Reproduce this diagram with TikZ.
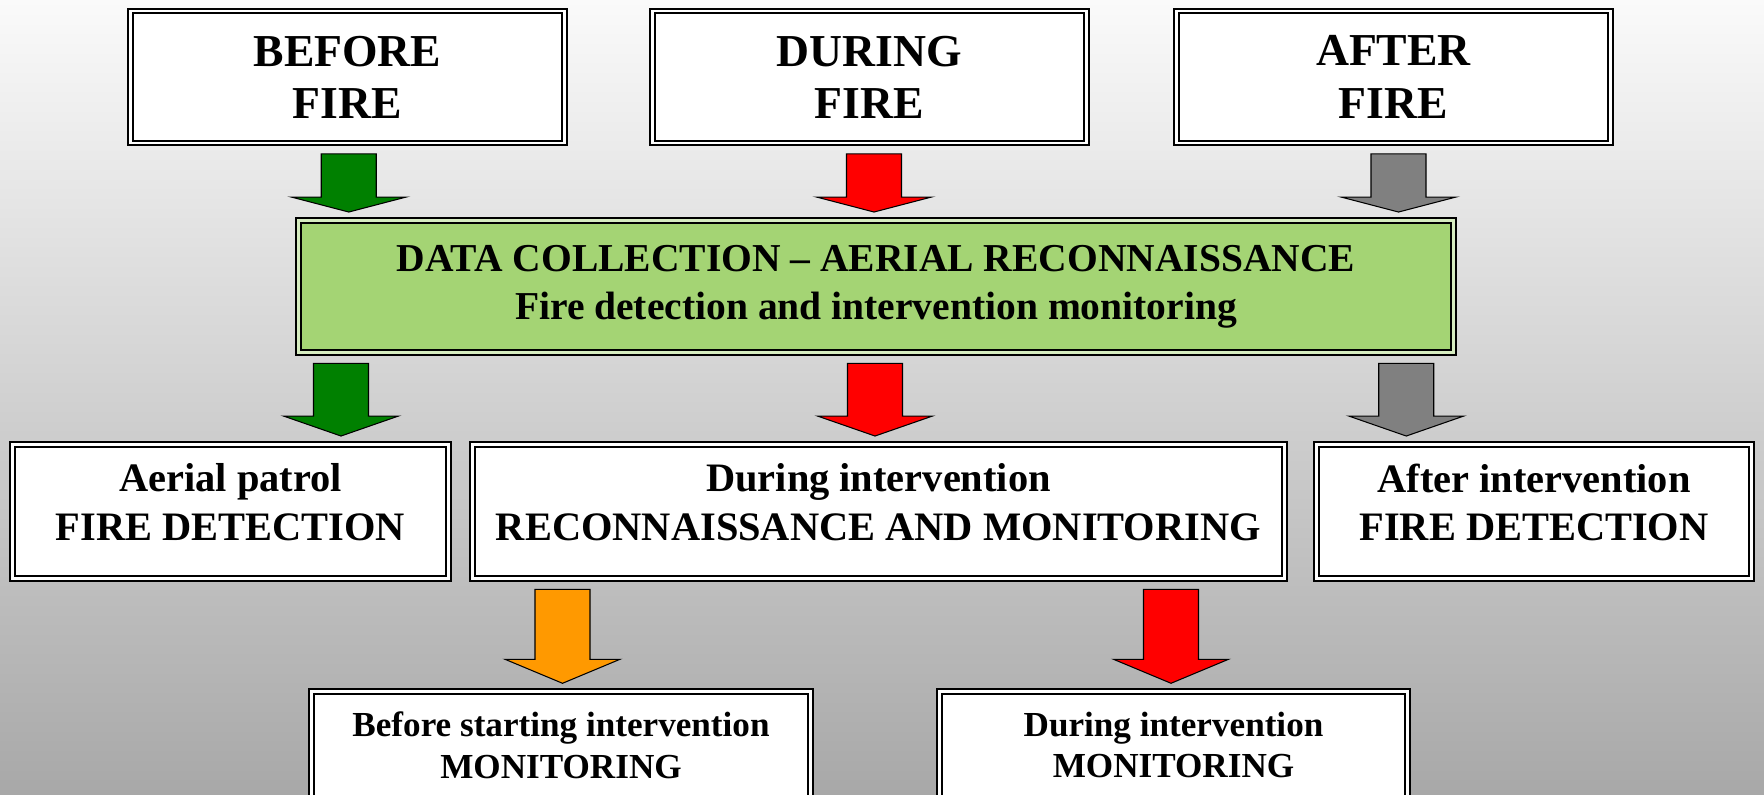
\documentclass[tikz,border=0pt]{standalone}
\usepackage{fontspec}
\setmainfont{Liberation Serif}
\usetikzlibrary{calc}

% Larghezze delle frecce a blocco
\def\shaftw{0.55}
\def\headw{1.15}

% Freccia a blocco: nome, colore, x, nodo di partenza, nodo di arrivo, lunghezza punta
\newcommand{\fireArrow}[6]{%
  \coordinate (#1s) at ($(#3,0 |- #4.south)+(0,-0.2)$);
  \coordinate (#1t) at ($(#3,0 |- #5.north)+(0,0.15)$);
  \draw[blockarrow, fill=#2] ($(#1s)+(-\shaftw,0)$) -- ($(#1s)+(\shaftw,0)$)
    -- ($(#1t)+(\shaftw,#6)$) -- ($(#1t)+(\headw,#6)$) -- (#1t)
    -- ($(#1t)+(-\headw,#6)$) -- ($(#1t)+(-\shaftw,#6)$) -- cycle;
}

\begin{document}
\begin{tikzpicture}

% Colori
\definecolor{bgTop}{HTML}{FAFAFA}
\definecolor{bgMid}{HTML}{E2E2E2}
\definecolor{bgBot}{HTML}{A8A8A8}
\definecolor{colData}{HTML}{A4D474}
\definecolor{colGreen}{HTML}{008000}
\definecolor{colRed}{HTML}{FF0000}
\definecolor{colGray}{HTML}{808080}
\definecolor{colOrange}{HTML}{FF9900}

\tikzset{
  box/.style={draw=black, line width=1.1pt, double=white, double distance=1.6pt,
    fill=white, align=center, inner sep=0pt},
  phasebox/.style={box, minimum width=8.69cm, minimum height=2.64cm,
    font=\fontsize{26}{29.7}\selectfont\bfseries},
  databox/.style={box, double=colData!45!white, fill=colData,
    minimum width=23.11cm, minimum height=2.64cm,
    font=\fontsize{22.5}{27.3}\selectfont\bfseries},
  taskbox/.style={box, minimum height=2.68cm, text depth=0.38cm,
    font=\fontsize{23}{27.5}\selectfont\bfseries},
  monbox/.style={box, minimum height=2.13cm,
    font=\fontsize{20}{23.7}\selectfont\bfseries},
  blockarrow/.style={draw=black, line width=0.6pt, line join=miter}
}

% Sfondo
\clip (0,0) rectangle (35.28,-15.885);
\shade[top color=bgTop, middle color=bgMid, bottom color=bgBot]
  (0,0) rectangle (35.28,-15.885);

% Fasi
\node[phasebox] (before) at (6.95,-1.54) {BEFORE\\FIRE};
\node[phasebox] (during) at (17.39,-1.54) {DURING\\FIRE};
\node[phasebox] (after) at (27.87,-1.54) {AFTER\\FIRE};

% Raccolta dati
\node[databox] (data) at (17.52,-5.73)
  {DATA COLLECTION -- AERIAL RECONNAISSANCE\\Fire detection and intervention monitoring};

% Attivita'
\node[taskbox, minimum width=8.73cm] (patrol) at (4.61,-10.23)
  {Aerial patrol\\FIRE DETECTION};
\node[taskbox, minimum width=16.25cm] (recon) at (17.57,-10.23)
  {During intervention\\RECONNAISSANCE AND MONITORING};
\node[taskbox, minimum width=8.71cm] (afterdet) at (30.68,-10.23)
  {After intervention\\FIRE DETECTION};

% Monitoraggio
\node[monbox, minimum width=9.97cm] (monbefore) at (11.22,-14.90)
  {Before starting intervention\\MONITORING};
\node[monbox, minimum width=9.37cm] (monduring) at (23.47,-14.90)
  {During intervention\\MONITORING};

% Frecce
\fireArrow{aa}{colGreen}{6.975}{before}{data}{0.3}
\fireArrow{ab}{colRed}{17.48}{during}{data}{0.3}
\fireArrow{ac}{colGray}{27.97}{after}{data}{0.3}
\fireArrow{ad}{colGreen}{6.82}{data}{patrol}{0.4}
\fireArrow{ae}{colRed}{17.5}{data}{recon}{0.4}
\fireArrow{af}{colGray}{28.125}{data}{afterdet}{0.4}
\fireArrow{ag}{colOrange}{11.25}{recon}{monbefore}{0.48}
\fireArrow{ah}{colRed}{23.42}{recon}{monduring}{0.48}

\end{tikzpicture}
\end{document}
